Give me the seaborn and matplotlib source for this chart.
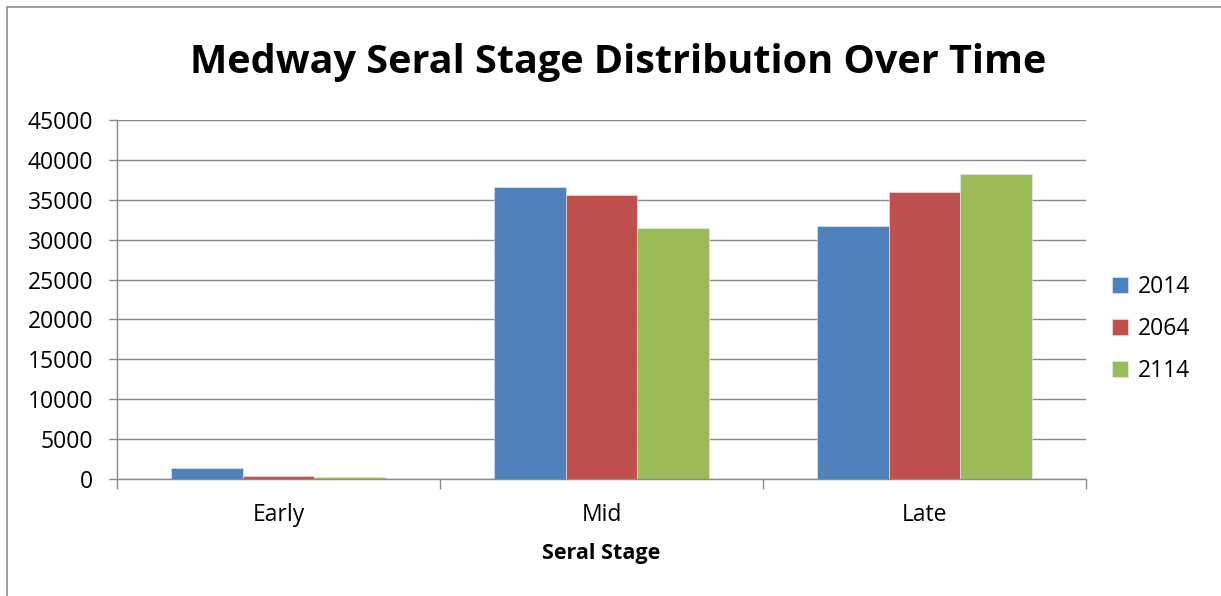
import matplotlib
matplotlib.use("Agg")
import matplotlib.pyplot as plt
import seaborn as sns
import pandas as pd
from matplotlib.patches import Rectangle

# Area (acres) by seral stage for each modelled year
stages = ["Early", "Mid", "Late"]
years = ["2014", "2064", "2114"]
area_2014 = [1340, 36580, 31670]
area_2064 = [340, 35580, 36000]
area_2114 = [220, 31450, 38170]
palette = ["#4F81BD", "#C0504D", "#9BBB59"]
y_ticks = [0, 5000, 10000, 15000, 20000, 25000, 30000, 35000, 40000, 45000]

df = pd.DataFrame({
    "Seral Stage": stages * 3,
    "Year": [years[0]] * 3 + [years[1]] * 3 + [years[2]] * 3,
    "Area": area_2014 + area_2064 + area_2114,
})

sns.set_theme(style="white")
plt.rcParams["font.family"] = ["Open Sans", "DejaVu Sans"]
plt.rcParams["text.color"] = "black"

W, H = 1221, 596
fig = plt.figure(figsize=(W / 100, H / 100), dpi=100)
ax = fig.add_axes([117 / W, 1 - 479 / H, (1086 - 117) / W, (479 - 120) / H])

sns.barplot(data=df, x="Seral Stage", y="Area", hue="Year", order=stages,
            hue_order=years, palette=palette, width=0.667, saturation=1,
            edgecolor="#e8eef5", linewidth=0.4, ax=ax, zorder=3)

grid_c = "#8c8c8c"
ax.set_ylim(0, 45000)
ax.set_xlim(-0.5, 2.5)
ax.set_yticks(y_ticks)
ax.set_yticklabels([str(v) for v in y_ticks], fontsize=16.5)
ax.yaxis.grid(True, color=grid_c, linewidth=1.0, zorder=0)
ax.set_axisbelow(True)
for s in ["top", "right"]:
    ax.spines[s].set_visible(False)
for s in ["left", "bottom"]:
    ax.spines[s].set_color(grid_c)
    ax.spines[s].set_linewidth(1.0)
    ax.spines[s].set_zorder(4)

ax.tick_params(axis="y", which="major", left=True, length=6, width=1,
               color=grid_c, pad=11, labelcolor="black")
ax.set_xticks([-0.5, 0.5, 1.5, 2.5], minor=True)
ax.tick_params(axis="x", which="minor", bottom=True, length=7, width=1,
               color=grid_c)
ax.tick_params(axis="x", which="major", bottom=False, length=0, pad=17,
               labelsize=16.5, labelcolor="black")

ax.set_ylabel("")
ax.set_xlabel("Seral Stage", fontsize=15.5, fontweight="bold", labelpad=12,
              color="black")
ax.set_title("Medway Seral Stage Distribution Over Time", fontsize=28.5,
             fontweight="bold", pad=34, color="black", x=0.517)

leg = ax.legend(loc="center left", bbox_to_anchor=(1.006, 0.418), frameon=False,
                fontsize=16.5, handlelength=0.7, handleheight=0.7,
                handletextpad=0.4, labelspacing=0.78)

# outer chart border
fig.patches.append(Rectangle((7 / W, -0.05), 1.2, 1 - 7 / H + 0.05,
                             transform=fig.transFigure, fill=False,
                             edgecolor="#8c8c8c", linewidth=1.2))

fig.savefig("out.png", dpi=100, facecolor="white")
